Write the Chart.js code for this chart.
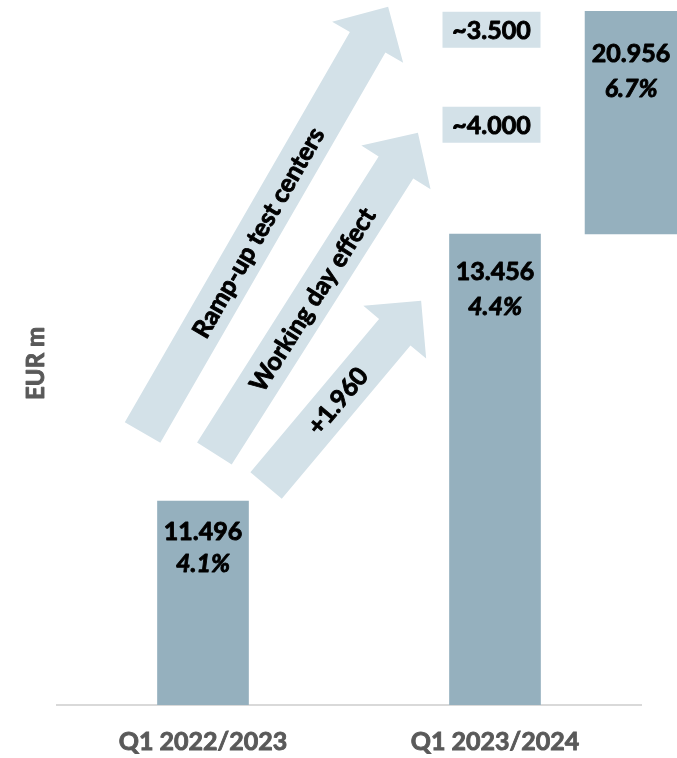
<!DOCTYPE html>
<html><head><meta charset="utf-8">
<script src="https://cdn.jsdelivr.net/npm/chart.js@4.4.1/dist/chart.umd.min.js"></script>
<style>html,body{margin:0;padding:0;background:#fff}#wrap{width:677px;height:758px;position:relative}</style>
</head><body><div id="wrap"><canvas id="c"></canvas></div>
<script>
// ---- data ----
const categories = ['Q1 2022/2023', 'Q1 2023/2024'];
const revenue = [11496, 13456];
const growthPct = [4.1, 4.4];
const outlookTotal = 20956;
const outlookGrowthPct = 6.7;
const outlookVisibleRange = [13456, 15090]; // truncated bar as drawn in the reference
const bridgeLabels = ['Ramp-up test centers', 'Working day effect', '+1.960'];
const bridgeBoxLabels = ['~3.500', '~4.000'];

// ---- helpers ----
const fmt = v => String(v).replace(/\B(?=(\d{3})+(?!\d))/g, '.');
const pct = v => v.toFixed(1) + '%';
const FONT = 'Lato, "Open Sans", sans-serif';
const BAR = '#95b0be';
const LIGHT = '#d3e1e8';
const outlookSlot = 1.466;

const barLabels = [
  {value: fmt(revenue[0]), pct: pct(growthPct[0])},
  {value: fmt(revenue[1]), pct: pct(growthPct[1])},
  {value: fmt(outlookTotal), pct: pct(outlookGrowthPct)}
];

function heavyText(ctx, txt, x, y, color) {
  ctx.fillStyle = color;
  ctx.strokeStyle = color;
  ctx.lineWidth = 0.9;
  ctx.lineJoin = 'round';
  ctx.strokeText(txt, x, y);
  ctx.fillText(txt, x, y);
}

const bridgePlugin = {
  id: 'bridge',
  beforeDatasetsDraw(chart, args, opts) {
    const {ctx, scales: {x, y}} = chart;
    opts.arrows.forEach(a => {
      const x0 = x.getPixelForValue(a.from[0]), y0 = y.getPixelForValue(a.from[1]);
      const x1 = x.getPixelForValue(a.to[0]), y1 = y.getPixelForValue(a.to[1]);
      const dx = x1 - x0, dy = y1 - y0, len = Math.hypot(dx, dy);
      const ux = dx / len, uy = dy / len, nx = -uy, ny = ux;
      const hw = opts.shaft / 2, HW = opts.head / 2, hl = opts.headLen;
      const bx = x1 - ux * hl, by = y1 - uy * hl;
      ctx.save();
      ctx.beginPath();
      ctx.moveTo(x0 + nx * hw, y0 + ny * hw);
      ctx.lineTo(bx + nx * hw, by + ny * hw);
      ctx.lineTo(bx + nx * HW, by + ny * HW);
      ctx.lineTo(x1, y1);
      ctx.lineTo(bx - nx * HW, by - ny * HW);
      ctx.lineTo(bx - nx * hw, by - ny * hw);
      ctx.lineTo(x0 - nx * hw, y0 - ny * hw);
      ctx.closePath();
      ctx.fillStyle = LIGHT;
      ctx.fill();
      ctx.translate(x0 + dx * a.at, y0 + dy * a.at);
      ctx.rotate(Math.atan2(dy, dx));
      ctx.font = 'bold 25px ' + FONT;
      ctx.textAlign = 'center';
      ctx.textBaseline = 'middle';
      heavyText(ctx, a.text, 0, 1, '#000');
      ctx.restore();
    });
    opts.boxes.forEach(b => {
      const cx = x.getPixelForValue(b.x), cy = y.getPixelForValue(b.y);
      ctx.save();
      ctx.fillStyle = LIGHT;
      ctx.fillRect(cx - 49, cy - 18, 98, 36);
      ctx.font = 'bold 25px ' + FONT;
      ctx.textAlign = 'center';
      ctx.textBaseline = 'middle';
      heavyText(ctx, b.text, cx, cy + 1, '#000');
      ctx.restore();
    });
  },
  afterDatasetsDraw(chart, args, opts) {
    const {ctx, scales: {y}} = chart;
    const els = [...chart.getDatasetMeta(0).data, ...chart.getDatasetMeta(1).data];
    els.forEach((el, i) => {
      const lab = barLabels[i];
      const off = opts.labelOffsets[i];
      ctx.save();
      ctx.textAlign = 'center';
      ctx.textBaseline = 'middle';
      ctx.font = 'bold 25px ' + FONT;
      heavyText(ctx, lab.value, el.x, el.y + off[0], '#000');
      ctx.font = 'italic bold 25px ' + FONT;
      heavyText(ctx, lab.pct, el.x, el.y + off[1], '#000');
      ctx.restore();
    });
    // y-axis title
    ctx.save();
    ctx.translate(opts.titleX, (chart.chartArea.top + chart.chartArea.bottom) / 2 + 6);
    ctx.rotate(-Math.PI / 2);
    ctx.font = 'bold 24px ' + FONT;
    ctx.textAlign = 'center';
    ctx.textBaseline = 'middle';
    heavyText(ctx, 'EUR m', 0, 0, '#595959');
    ctx.restore();
  }
};

new Chart(document.getElementById('c'), {
  type: 'bar',
  data: {
    datasets: [
      {
        data: categories.map((c, i) => ({x: i, y: revenue[i]})),
        backgroundColor: BAR, barThickness: 91, grouped: false
      },
      {
        data: [{x: outlookSlot, y: outlookVisibleRange}],
        backgroundColor: BAR, barThickness: 92, grouped: false, clip: false
      }
    ]
  },
  options: {
    responsive: true,
    maintainAspectRatio: false,
    animation: false,
    layout: {padding: {top: 10, right: 36, left: 0, bottom: 0}},
    plugins: {
      legend: {display: false},
      tooltip: {enabled: false},
      bridge: {
        shaft: 41, head: 82, headLen: 41, titleX: 36,
        arrows: [
          {from: [-0.207, 12000], to: [0.634, 15124], text: bridgeLabels[0], at: 0.47},
          {from: [0.039, 11846], to: [0.736, 14199], text: bridgeLabels[1], at: 0.48},
          {from: [0.216, 11611], to: [0.747, 12966], text: bridgeLabels[2], at: 0.46}
        ],
        boxes: [
          {x: 0.988, y: 14955, text: bridgeBoxLabels[0]},
          {x: 0.988, y: 14258, text: bridgeBoxLabels[1]}
        ],
        labelOffsets: [[31, 63], [38, 73], [43, 78]]
      }
    },
    scales: {
      x: {
        type: 'linear', min: -0.5, max: 1.5, offset: false,
        afterBuildTicks: s => { s.ticks = categories.map((c, i) => ({value: i})); },
        afterFit: s => { s.height = 53; },
        grid: {display: false, drawTicks: false},
        border: {display: true, color: '#d9d9d9', width: 2},
        ticks: {
          autoSkip: false, maxRotation: 0, padding: 22,
          callback: v => categories[v] ?? '',
          color: '#595959',
          textStrokeColor: '#595959', textStrokeWidth: 0.9,
          font: {family: FONT, weight: 'bold', size: 25}
        }
      },
      y: {
        min: 10000, max: 15100,
        afterFit: s => { s.width = 57; },
        grid: {display: false, drawTicks: false},
        border: {display: false},
        ticks: {display: false},
        title: {display: false}
      }
    }
  },
  plugins: [bridgePlugin]
});
</script>
</body></html>
